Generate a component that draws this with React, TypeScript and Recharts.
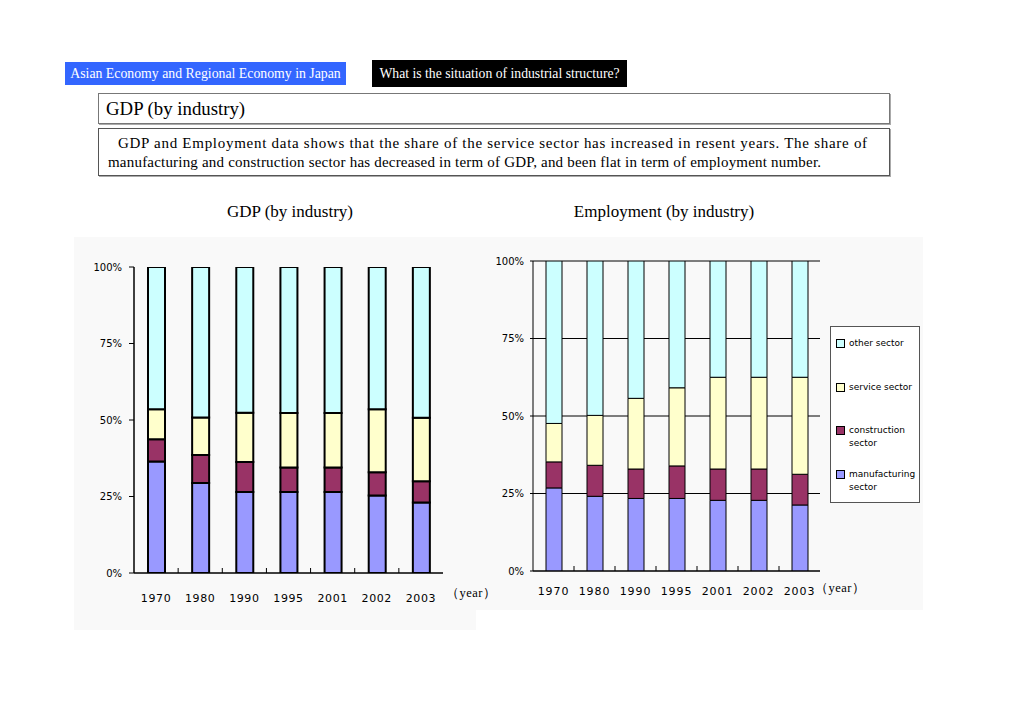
import { BarChart, Bar, XAxis, YAxis, CartesianGrid } from 'recharts';

const years = ['1970', '1980', '1990', '1995', '2001', '2002', '2003'];

// GDP shares (%)
const gdpManufacturing = [36.4, 29.4, 26.5, 26.5, 26.5, 25.3, 23.0];
const gdpConstruction = [7.3, 9.2, 9.8, 8.0, 8.0, 7.6, 7.0];
const gdpService = [9.8, 12.2, 16.1, 17.8, 17.8, 20.6, 20.7];
const gdpOther = [46.5, 49.2, 47.6, 47.7, 47.7, 46.5, 49.3];

// Employment shares (%)
const empManufacturing = [26.8, 24.1, 23.4, 23.4, 22.8, 22.8, 21.3];
const empConstruction = [8.4, 10.0, 9.5, 10.5, 10.1, 10.1, 9.9];
const empService = [12.4, 16.1, 22.8, 25.2, 29.6, 29.6, 31.3];
const empOther = [52.4, 49.8, 44.3, 40.9, 37.5, 37.5, 37.5];

const yTicks = [0, 25, 50, 75, 100];

const sectors = [
  { key: 'manufacturing', name: 'manufacturing sector', color: '#9999ff' },
  { key: 'construction', name: 'construction sector', color: '#993366' },
  { key: 'service', name: 'service sector', color: '#ffffcc' },
  { key: 'other', name: 'other sector', color: '#ccffff' },
];

const gdpData = years.map((year, i) => ({
  year,
  manufacturing: gdpManufacturing[i],
  construction: gdpConstruction[i],
  service: gdpService[i],
  other: gdpOther[i],
}));

const empData = years.map((year, i) => ({
  year,
  manufacturing: empManufacturing[i],
  construction: empConstruction[i],
  service: empService[i],
  other: empOther[i],
}));

const SERIF = '"Liberation Serif", "Times New Roman", serif';
const SANS = '"DejaVu Sans", sans-serif';

function makeXTick(step: number, labelDy: number, fontSize: number, spacing: number) {
  return (props: any) => {
    const { x, y, payload, index } = props;
    return (
      <g>
        {index < years.length - 1 && (
          <line x1={x + step / 2} x2={x + step / 2} y1={y - 5} y2={y} stroke="#000" />
        )}
        <text
          x={x}
          y={y + labelDy}
          textAnchor="middle"
          fontFamily={SANS}
          fontSize={fontSize}
          letterSpacing={spacing}
          fill="#000"
        >
          {payload.value}
        </text>
      </g>
    );
  };
}

const pct = (v: number) => `${v}%`;

function GdpChart() {
  const width = 402;
  const height = 393;
  const margin = { top: 30, right: 33, bottom: 0, left: 0 };
  const step = (width - 60 - margin.right) / years.length;
  return (
    <BarChart width={width} height={height} data={gdpData} margin={margin} barSize={17}>
      <XAxis
        dataKey="year"
        height={57}
        interval={0}
        tickSize={0}
        tickMargin={0}
        axisLine={{ stroke: '#000', strokeWidth: 1.5 }}
        tick={makeXTick(step, 29, 11, 0.6)}
      />
      <XAxis xAxisId="top" dataKey="year" orientation="top" height={0} tick={false} tickLine={false} axisLine={{ stroke: '#000' }} />
      <YAxis
        domain={[0, 100]}
        ticks={yTicks}
        tickFormatter={pct}
        width={60}
        interval={0}
        tickSize={5}
        tickMargin={7}
        axisLine={{ stroke: '#000', strokeWidth: 1.5 }}
        tickLine={{ stroke: '#000' }}
        tick={{ fill: '#000', fontSize: 10, fontFamily: SANS }}
        allowDataOverflow
      />
      <YAxis yAxisId="right" orientation="right" width={0} domain={[0, 100]} tick={false} tickLine={false} axisLine={{ stroke: '#808080' }} />
      {sectors.map((s) => (
        <Bar
          key={s.key}
          dataKey={s.key}
          name={s.name}
          stackId="a"
          fill={s.color}
          stroke="#000"
          strokeWidth={2}
          isAnimationActive={false}
        />
      ))}
    </BarChart>
  );
}

function EmpChart() {
  const width = 447;
  const height = 373;
  const margin = { top: 24, right: 103, bottom: 0, left: 0 };
  const step = (width - 57 - margin.right) / years.length;
  return (
    <BarChart width={width} height={height} data={empData} margin={margin} barSize={16}>
      <CartesianGrid vertical={false} stroke="#000" />
      <XAxis
        dataKey="year"
        height={39}
        interval={0}
        tickSize={0}
        tickMargin={0}
        axisLine={{ stroke: '#000' }}
        tick={makeXTick(step, 24, 11, 0.9)}
      />
      <YAxis
        domain={[0, 100]}
        ticks={yTicks}
        tickFormatter={pct}
        width={57}
        interval={0}
        tickSize={3}
        tickMargin={6}
        axisLine={{ stroke: '#000' }}
        tickLine={{ stroke: '#000' }}
        tick={{ fill: '#000', fontSize: 10, fontFamily: SANS }}
        allowDataOverflow
      />
      <YAxis yAxisId="right" orientation="right" width={0} domain={[0, 100]} tick={false} tickLine={false} axisLine={{ stroke: '#808080' }} />
      {sectors.map((s) => (
        <Bar
          key={s.key}
          dataKey={s.key}
          name={s.name}
          stackId="a"
          fill={s.color}
          stroke="#000"
          strokeWidth={1}
          isAnimationActive={false}
        />
      ))}
    </BarChart>
  );
}

function SectorLegend() {
  const items = [...sectors].reverse();
  return (
    <div
      style={{
        position: 'absolute',
        left: 830,
        top: 326,
        width: 88,
        height: 175,
        background: '#fff',
        border: '1px solid #555',
        fontFamily: SANS,
        fontSize: 9,
        color: '#000',
      }}
    >
      {items.map((s, i) => {
        const words = s.name.split(' ');
        return (
          <div key={s.key} style={{ position: 'absolute', left: 5, top: 10 + i * 43.5, display: 'flex' }}>
            <div
              style={{
                width: 7,
                height: 7,
                marginTop: 2,
                marginRight: 4,
                background: s.color,
                border: '1px solid #000',
              }}
            />
            <div style={{ lineHeight: '13px' }}>
              {s.key === 'construction' || s.key === 'manufacturing' ? (
                <>
                  {words[0]}
                  <br />
                  {words[1]}
                </>
              ) : (
                s.name
              )}
            </div>
          </div>
        );
      })}
    </div>
  );
}

const abs = (left: number, top: number, extra: any = {}) => ({ position: 'absolute' as const, left, top, ...extra });

export default function App() {
  return (
    <div style={{ position: 'absolute', left: 0, top: 0, width: 1020, height: 714, background: '#fff', overflow: 'hidden' }}>
      <div
        style={abs(65, 62, {
          width: 281,
          height: 23,
          background: '#3366ff',
          color: '#fff',
          fontFamily: SERIF,
          fontSize: 13.8,
          lineHeight: '23px',
          textAlign: 'center',
          whiteSpace: 'nowrap',
        })}
      >
        Asian Economy and Regional Economy in Japan
      </div>
      <div
        style={abs(372, 60, {
          width: 255,
          height: 27,
          background: '#000',
          color: '#fff',
          fontFamily: SERIF,
          fontSize: 13.7,
          lineHeight: '28px',
          textAlign: 'center',
          whiteSpace: 'nowrap',
        })}
      >
        What is the situation of industrial structure?
      </div>
      <div
        style={abs(98, 93, {
          width: 792,
          height: 31,
          border: '1px solid #777',
          boxShadow: '1px 1px 0 #aaa',
          fontFamily: SERIF,
          fontSize: 18.8,
          lineHeight: '30px',
          paddingLeft: 7,
          boxSizing: 'border-box',
        })}
      >
        GDP (by industry)
      </div>
      <div
        style={abs(98, 128, {
          width: 792,
          height: 48,
          border: '1px solid #555',
          boxShadow: '1px 1px 0 #aaa',
          fontFamily: SERIF,
          fontSize: 15,
          lineHeight: '19px',
          paddingTop: 5,
          paddingLeft: 9,
          boxSizing: 'border-box',
          whiteSpace: 'nowrap',
        })}
      >
        <div style={{ paddingLeft: 10, letterSpacing: 0.72 }}>
          GDP and Employment data shows that the share of the service sector has increased in resent years. The share of
        </div>
        <div style={{ letterSpacing: 0.2 }}>
          manufacturing and construction sector has decreased in term of GDP, and been flat in term of employment number.
        </div>
      </div>

      <div style={abs(190, 202, { width: 200, textAlign: 'center', fontFamily: SERIF, fontSize: 17 })}>GDP (by industry)</div>
      <div style={abs(544, 202, { width: 240, textAlign: 'center', fontFamily: SERIF, fontSize: 17 })}>
        Employment (by industry)
      </div>

      <div style={abs(74, 237, { width: 402, height: 393, background: '#f9f9f9' })}>
        <GdpChart />
      </div>
      <div style={abs(476, 237, { width: 447, height: 373, background: '#f9f9f9' })}>
        <EmpChart />
      </div>

      <div style={abs(446, 585, { fontFamily: SERIF, fontSize: 12.5, letterSpacing: 0.5 })}>（year）</div>
      <div style={abs(815, 580, { fontFamily: SERIF, fontSize: 12.5, letterSpacing: 0.5 })}>（year）</div>

      <SectorLegend />
    </div>
  );
}
